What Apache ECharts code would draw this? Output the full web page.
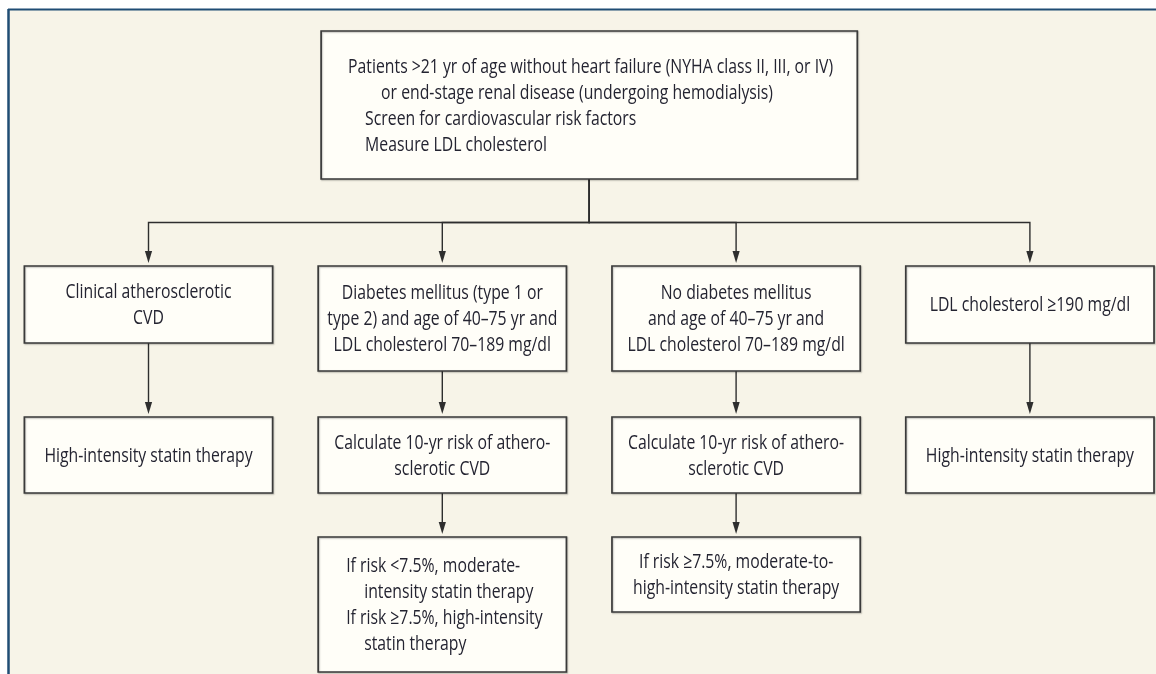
<!DOCTYPE html>
<html><head><meta charset="utf-8">
<script src="https://cdn.jsdelivr.net/npm/echarts@6/dist/echarts.min.js"></script>
<style>html,body{margin:0;padding:0;background:#ffffff}#c{width:1156px;height:674px}</style>
</head><body><div id="c"></div>
<script>
// ---- data: flowchart nodes and edges ----
const nodeLines = [
  ["Patients >21 yr of age without heart failure (NYHA class II, III, or IV)",
   "or end-stage renal disease (undergoing hemodialysis)",
   "Screen for cardiovascular risk factors",
   "Measure LDL cholesterol"],
  ["Clinical atherosclerotic", "CVD"],
  ["Diabetes mellitus (type 1 or", "type 2) and age of 40\u201375 yr and", "LDL cholesterol 70\u2013189 mg/dl"],
  ["No diabetes mellitus", "and age of 40\u201375 yr and", "LDL cholesterol 70\u2013189 mg/dl"],
  ["LDL cholesterol \u2265190 mg/dl"],
  ["High-intensity statin therapy"],
  ["Calculate 10-yr risk of athero-", "sclerotic CVD"],
  ["Calculate 10-yr risk of athero-", "sclerotic CVD"],
  ["High-intensity statin therapy"],
  ["If risk <7.5%, moderate-", "intensity statin therapy", "If risk \u22657.5%, high-intensity", "statin therapy"],
  ["If risk \u22657.5%, moderate-to-", "high-intensity statin therapy"]
];
const nodeColumn = [1.5, 0, 1, 2, 3, 0, 1, 2, 3, 1, 2];
const nodeLevel  = [0, 1, 1, 1, 1, 2, 2, 2, 2, 3, 3];
const edgeFrom = [0, 0, 0, 0, 1, 2, 3, 4, 6, 7];
const edgeTo   = [1, 2, 3, 4, 5, 6, 7, 8, 9, 10];

// ---- layout (positions / sizes / styles) ----
const L = {
  colX0: 148.5, colStep: 293.8,
  levelTop: [31, 266, 417, 537],
  nodeHeight: [148, 77, 105, 105, 77, 76, 76, 76, 76, 135, 75],
  nodeWidth: [1.825, 0.845, 0.845, 0.845, 0.845, 0.845, 0.845, 0.845, 0.845, 0.845, 0.845],
  indent: { 0: [27, 60, 44, 44], 9: [28, 46, 28, 46] },
  lineHeight: 26,
  fontSize: 20.5,
  fontFamily: '"Open Sans", "Noto Sans", Lato, sans-serif',
  textColor: '#242431',
  boxFill: '#fffef8',
  boxStroke: '#3a3a3a',
  edgeColor: '#2e2e2e',
  arrowGap: 3, arrowLen: 12, arrowHalf: 3.6
};
const FONT = L.fontSize + 'px ' + L.fontFamily;
const ctx = document.createElement('canvas').getContext('2d');
ctx.font = FONT;
const SX = 485 / ctx.measureText(nodeLines[0][0]).width;

const chart = echarts.init(document.getElementById('c'), null, { renderer: 'canvas' });

function nodeBox(i, api) {
  const col = nodeColumn[i], w = L.nodeWidth[i];
  const top = L.levelTop[nodeLevel[i]], h = L.nodeHeight[i];
  const p0 = api.coord([col - w / 2, top]);
  const p1 = api.coord([col + w / 2, top + h]);
  return { x0: p0[0], y0: p0[1], x1: p1[0], y1: p1[1], cx: (p0[0] + p1[0]) / 2, cy: (p0[1] + p1[1]) / 2 };
}

const option = {
  backgroundColor: '#ffffff',
  animation: false,
  grid: { left: 0, right: 0, top: 0, bottom: 0 },
  xAxis: { type: 'value', min: -L.colX0 / L.colStep, max: (1156 - L.colX0) / L.colStep, show: false },
  yAxis: { type: 'value', min: 0, max: 674, inverse: true, show: false },
  graphic: [
    { type: 'rect', shape: { x: 8, y: 9, width: 1160, height: 680 }, style: { fill: '#f7f4e8' }, z: -10 },
    { type: 'line', shape: { x1: 8, y1: 9.5, x2: 1156, y2: 9.5 }, style: { stroke: '#1f4d74', lineWidth: 2 }, z: -9 },
    { type: 'line', shape: { x1: 8.5, y1: 9, x2: 8.5, y2: 674 }, style: { stroke: '#1f4d74', lineWidth: 2.5 }, z: -9 }
  ],
  series: [
    {
      type: 'custom', coordinateSystem: 'cartesian2d', clip: false, z: 2,
      data: edgeFrom.map((f, k) => [f, edgeTo[k]]),
      renderItem: function (params, api) {
        const a = nodeBox(api.value(0), api), b = nodeBox(api.value(1), api);
        const tipY = b.y0 - L.arrowGap;
        const busY = (a.y1 + b.y0) / 2;
        const pts = Math.abs(a.cx - b.cx) < 1
          ? [[b.cx, a.y1], [b.cx, tipY - L.arrowLen + 2]]
          : [[a.cx, a.y1], [a.cx, busY], [b.cx, busY], [b.cx, tipY - L.arrowLen + 2]];
        return {
          type: 'group', children: [
            { type: 'polyline', shape: { points: pts }, style: { stroke: L.edgeColor, lineWidth: 1.4, fill: null } },
            { type: 'polygon', shape: { points: [[b.cx - L.arrowHalf, tipY - L.arrowLen], [b.cx + L.arrowHalf, tipY - L.arrowLen], [b.cx, tipY]] },
              style: { fill: L.edgeColor } }
          ]
        };
      }
    },
    {
      type: 'custom', coordinateSystem: 'cartesian2d', clip: false, z: 3,
      data: nodeLines.map((l, i) => [nodeColumn[i], i]),
      renderItem: function (params, api) {
        const i = api.value(1);
        const b = nodeBox(i, api);
        const lines = nodeLines[i];
        const n = lines.length;
        const children = [
          { type: 'rect', shape: { x: b.x0, y: b.y0, width: b.x1 - b.x0, height: b.y1 - b.y0 },
            style: { fill: L.boxFill, stroke: L.boxStroke, lineWidth: 1.7,
                     shadowColor: 'rgba(0,0,0,0.25)', shadowBlur: 1.5, shadowOffsetX: 0.8, shadowOffsetY: 0.8 } }
        ];
        const ind = L.indent[i];
        lines.forEach((t, k) => {
          const y = b.cy + (k - (n - 1) / 2) * L.lineHeight + 1;
          children.push({
            type: 'text', x: ind ? b.x0 + ind[k] : b.cx, y: y, scaleX: SX, scaleY: 1,
            style: { text: t, font: FONT, fill: L.textColor, align: ind ? 'left' : 'center', verticalAlign: 'middle' }
          });
        });
        return { type: 'group', children: children };
      }
    }
  ]
};
chart.setOption(option);
</script>
</body></html>
